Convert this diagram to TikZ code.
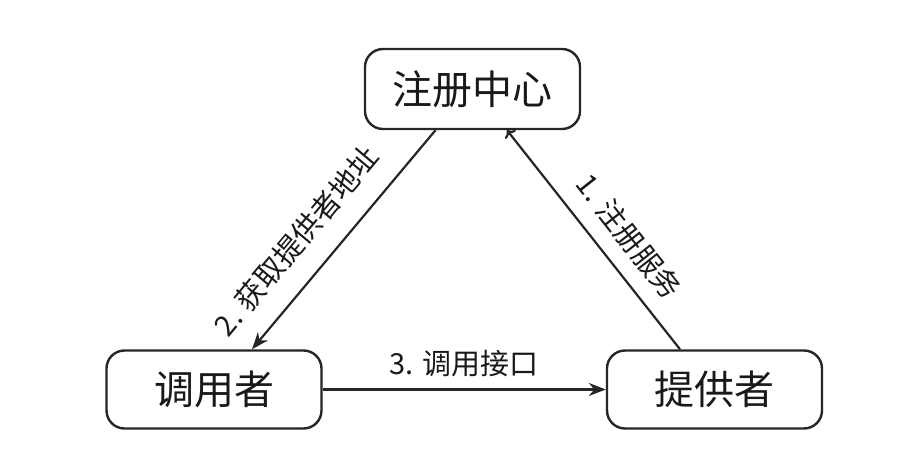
\documentclass[tikz,border=0pt]{standalone}
\usepackage{fontspec}
\setmainfont{Noto Sans CJK SC}
\usetikzlibrary{arrows.meta}

\begin{document}
\begin{tikzpicture}[
    x=1pt, y=1pt,
    base/.style = {rectangle, rounded corners=18pt, draw=black!85,
line width=2.4pt, minimum width=215pt, minimum height=78pt,
text centered, font=\fontsize{40}{48}\selectfont},
role/.style = {base, fill=white},
link/.style = {-{Stealth[length=17pt,width=13pt]}, line width=2.2pt, draw=black!85},
step label/.style = {font=\fontsize{29}{34}\selectfont},
every node/.style={text=black!90}, align=center
]
  \useasboundingbox (0,0) rectangle (904,448);

  \node (registry) [role, minimum height=80pt] at (472.5,359) {注册中心};
  \node (consumer) [role] at (214,58.5) {调用者};
  \node (provider) [role] at (714.5,58.5) {提供者};

  \draw[link]   ([xshift=-37pt]registry.south) -- node[sloped, above=18pt, pos=0.61, step label] {2. 获取提供者地址} ([xshift=38pt]consumer.north);
  \draw[link]   (consumer.east) -- node[above=8pt, step label] {3. 调用接口} (provider.west);
  \draw[link, <-] ([xshift=34.5pt]registry.south) -- node[sloped, above=12pt, pos=0.57, step label] {1. 注册服务} ([xshift=-34.5pt]provider.north);

\end{tikzpicture}
\end{document}
